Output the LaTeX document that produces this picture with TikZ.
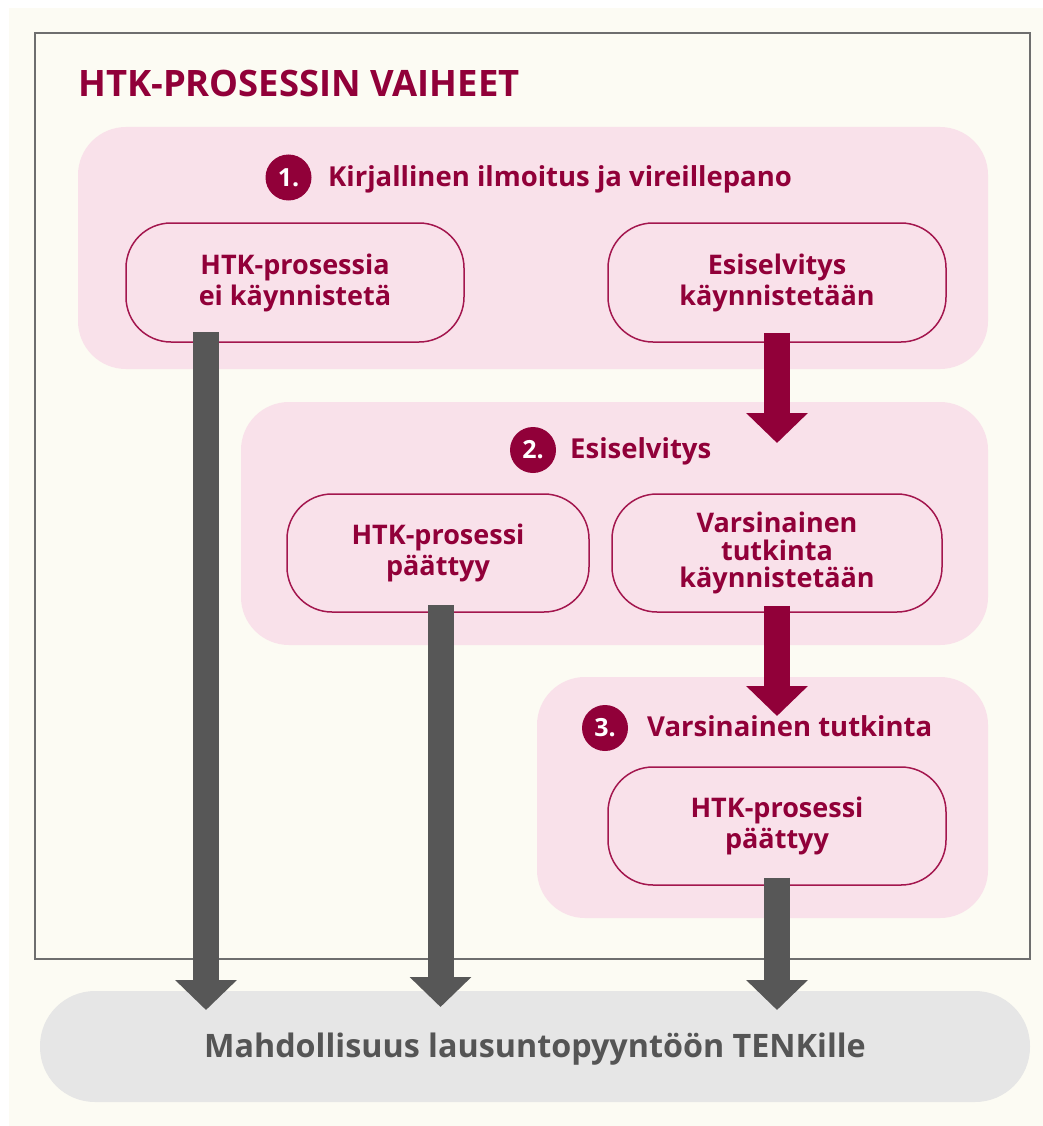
\documentclass[tikz,border=0pt]{standalone}
\usepackage{fontspec}
\setmainfont{Open Sans}
\usetikzlibrary{arrows.meta}
\definecolor{offwhite}{HTML}{FCFBF3}
\definecolor{pinkbg}{HTML}{F9E1EA}
\definecolor{crimson}{HTML}{910039}
\definecolor{boxline}{HTML}{A3164E}
\definecolor{framegray}{HTML}{6E6E6E}
\definecolor{arrowgray}{HTML}{575757}
\definecolor{bottomgray}{HTML}{E6E6E6}
\definecolor{textgray}{HTML}{555555}
\tikzset{
  stagebox/.style={rectangle, fill=pinkbg, rounded corners=48pt, inner sep=0pt},
  innerbox/.style={rectangle, draw=boxline, line width=1.5pt, fill=pinkbg, rounded corners=45pt, inner sep=0pt,
    text=crimson, font=\fontsize{27}{31}\selectfont\bfseries, align=center},
  badge/.style={circle, fill=crimson, minimum size=46pt, inner sep=0pt, text=white, font=\fontsize{25}{28}\selectfont\bfseries},
  header/.style={anchor=base west, inner sep=0pt, text=crimson, font=\fontsize{27.5}{30}\selectfont\bfseries},
  grayarrow/.style={draw=arrowgray, line width=26pt, -{Triangle[width=60pt,length=30pt]}},
  redarrow/.style={draw=crimson, line width=26pt, -{Triangle[width=60pt,length=30pt]}},
}
\begin{document}
\begin{tikzpicture}[x=1pt,y=-1pt]
\useasboundingbox (0,0) rectangle (1043,1126);
\fill[white] (0,0) rectangle (1043,1126);
\fill[offwhite] (9,8) rectangle (1043,1126);
\draw[framegray, line width=1.5pt] (35,33) rectangle (1030,959);

\node[anchor=base west, inner sep=0pt, text=crimson, font=\fontsize{36.4}{40}\selectfont\bfseries] (title) at (78,97) {HTK-PROSESSIN VAIHEET};

% stage boxes
\node[stagebox, minimum width=910pt, minimum height=242pt] (s1) at (533,248) {};
\node[stagebox, minimum width=747pt, minimum height=243pt] (s2) at (614.5,523.5) {};
\node[stagebox, minimum width=451pt, minimum height=241pt] (s3) at (762.5,797.5) {};

% headers
\node[badge] (c1) at (288.5,177.5) {1.};
\node[header] (h1) at (328,186) {Kirjallinen ilmoitus ja vireillepano};
\node[badge] (c2) at (533,450) {2.};
\node[header] (h2) at (570,458.5) {Esiselvitys};
\node[badge] (c3) at (605,728) {3.};
\node[header] (h3) at (647,736.5) {Varsinainen tutkinta};

% inner boxes
\node[innerbox, minimum width=338pt, minimum height=119pt] (b1a) at (295,282.5) {HTK-prosessia\\ei käynnistetä};
\node[innerbox, minimum width=338pt, minimum height=119pt] (b1b) at (777,282.5) {Esiselvitys\\käynnistetään};
\node[innerbox, minimum width=302pt, minimum height=118pt] (b2a) at (438,553) {HTK-prosessi\\päättyy};
\node[innerbox, minimum width=330pt, minimum height=118pt, font=\fontsize{27}{27.5}\selectfont\bfseries] (b2b) at (777,553) {Varsinainen\\tutkinta\\käynnistetään};
\node[innerbox, minimum width=338pt, minimum height=118pt] (b3a) at (777,826) {HTK-prosessi\\päättyy};

% bottom
\node[rectangle, fill=bottomgray, rounded corners=55pt, minimum width=990pt, minimum height=111pt, inner sep=0pt] (bot) at (535,1046.5) {};
\node[anchor=base, inner sep=0pt, text=textgray, font=\fontsize{32.3}{38}\selectfont\bfseries] (bottxt) at (535,1057) {Mahdollisuus lausuntopyyntöön TENKille};

% arrow ends
\coordinate (g1s) at (206,332);
\coordinate (g1e) at (206,1010);
\coordinate (g2s) at (440.5,605);
\coordinate (g2e) at (440.5,1007);
\coordinate (g3e) at (777,1010);
\coordinate (r1e) at (777,443);
\coordinate (r2e) at (777,716);

\draw[grayarrow] (g1s) -- (g1e);
\draw[grayarrow] (g2s) -- (g2e);
\draw[grayarrow] ([yshift=8pt]b3a.south) -- (g3e);
\draw[redarrow] ([yshift=10pt]b1b.south) -- (r1e);
\draw[redarrow] ([yshift=7pt]b2b.south) -- (r2e);
\end{tikzpicture}
\end{document}
